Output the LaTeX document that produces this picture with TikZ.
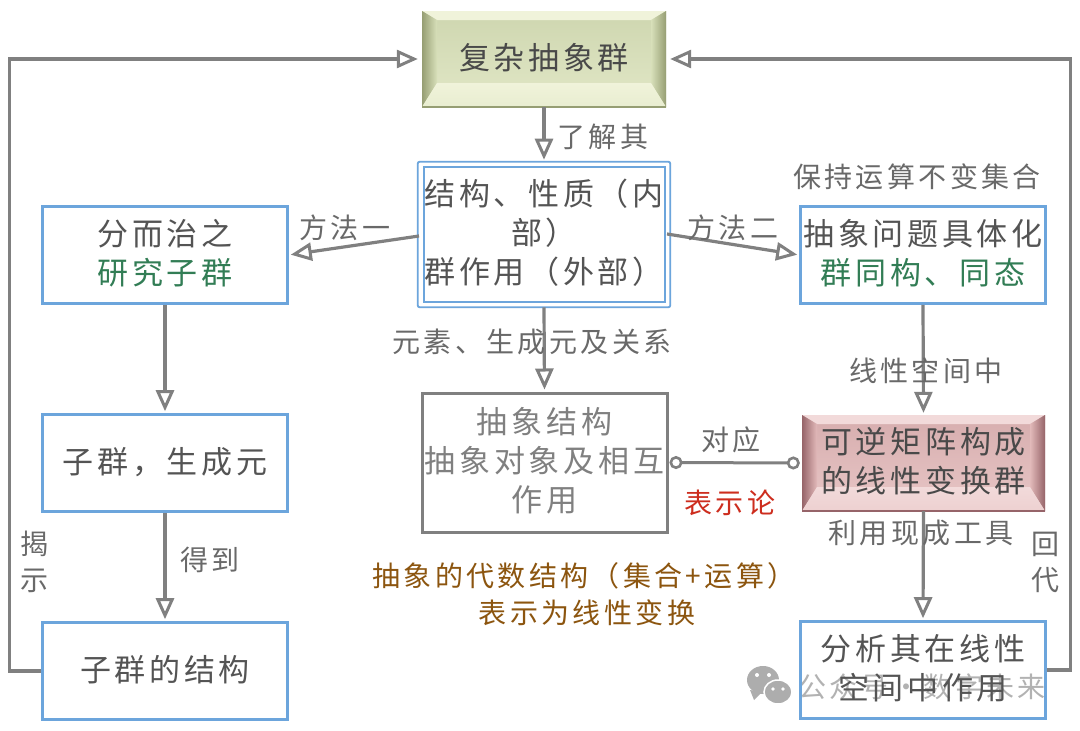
\documentclass[tikz,border=0pt]{standalone}
\usepackage{fontspec}
\setmainfont{Noto Sans CJK SC}[LetterSpace=12]
\usetikzlibrary{arrows.meta,calc}
\definecolor{linegray}{RGB}{128,128,128}
\definecolor{txtgray}{RGB}{105,105,105}
\definecolor{boxblue}{RGB}{108,165,220}
\definecolor{grn}{RGB}{50,125,85}
\definecolor{brn}{RGB}{140,85,15}
\definecolor{redtxt}{RGB}{205,45,30}
\definecolor{olL}{RGB}{240,243,218}
\definecolor{olF}{RGB}{216,224,186}
\definecolor{olD}{RGB}{150,158,115}
\definecolor{rdL}{RGB}{242,218,218}
\definecolor{rdF}{RGB}{226,186,186}
\definecolor{rdD}{RGB}{150,100,105}
\newcommand{\bevelbox}[7]{% x1 y1 x2 y2 light face dark
  \shade[top color=#6!85!#7,bottom color=#6!60!#5] (#1,#2) rectangle (#3,#4);
  \fill[#5] (#1,#2) -- (#3,#2) -- (#3-14,#2+9) -- (#1+14,#2+9) -- cycle;
  \shade[left color=#7,right color=#6] (#1,#2) -- (#1+15,#2+9) -- (#1+15,#4-24) -- (#1,#4) -- cycle;
  \shade[left color=#6,right color=#7] (#3,#2) -- (#3-15,#2+9) -- (#3-15,#4-24) -- (#3,#4) -- cycle;
  \shade[top color=#5,bottom color=#5!70!#6] (#1,#4) -- (#1+15,#4-24) -- (#3-15,#4-24) -- (#3,#4) -- cycle;
  \draw[#7,line width=1.2pt] (#1,#4) -- (#3,#4);
}
\tikzset{
  x=1pt,y=-1pt,
  box/.style={draw=boxblue,line width=2.6pt,minimum width=245pt,minimum height=97pt,align=center,
    text=txtgray!80!black,font=\fontsize{31}{39}\selectfont,inner sep=0pt},
  plain/.style={minimum width=244pt,minimum height=96pt,align=center,text=txtgray!70!black,
    font=\fontsize{31}{39}\selectfont,inner sep=0pt},
  lab/.style={text=txtgray,font=\fontsize{28}{30}\selectfont,align=center,inner sep=0pt},
  conn/.style={draw=linegray,line width=3.2pt,-{Triangle[open,fill=white,length=21pt,width=18pt,line width=3pt]},shorten >=2pt},
  link/.style={draw=linegray,line width=3pt,{Circle[open,fill=white,length=13pt,width=13pt,line width=2.6pt]}-{Circle[open,fill=white,length=13pt,width=13pt,line width=2.6pt]}},
}
\begin{document}
\begin{tikzpicture}
\useasboundingbox (0,0) rectangle (1080,731);
\fill[white] (0,0) rectangle (1080,731);
\bevelbox{422}{11}{666}{107}{olL}{olF}{olD}
\bevelbox{802}{415}{1045}{511}{rdL}{rdF}{rdD}
% watermark under the box text
\fill[black!32] (763,680) ellipse (16 and 14);
\fill[white] (757,675) circle (2) (769,675) circle (2);
\fill[black!32] (750,690) -- (754,700) -- (762,692) -- cycle;
\fill[black!32,draw=white,line width=1.5pt] (778,692) ellipse (14 and 12);
\fill[white] (773,689) circle (1.8) (783,689) circle (1.8);
\node[lab,text=black!30] (wm) at (922,687) {公众号·数字未来};
\node[plain] (top) at (544,59) {复杂抽象群\\[-33pt]};
\node[box,draw=none,minimum width=250pt,minimum height=143pt] (mid) at (544,234.5) {结构、性质（内\\部）\\群作用（外部）\\[-33pt]};
\draw[boxblue,line width=1.8pt,rounded corners=2pt] (mid.north west) rectangle (mid.south east);
\draw[boxblue,line width=1.8pt] ($(mid.north west)+(6,5)$) rectangle ($(mid.south east)+(-5,-5)$);
\node[box] (la) at (165,255) {分而治之\\{\color{grn}研究子群}\\[-33pt]};
\node[box] (lb) at (165,463) {子群，生成元\\[-33pt]};
\node[box] (lc) at (165,671) {子群的结构\\[-33pt]};
\node[box] (ra) at (923,255) {抽象问题具体化\\{\color{grn}群同构、同态}\\[-33pt]};
\node[plain,minimum width=243pt] (rb) at (923.5,463) {可逆矩阵构成\\的线性变换群\\[-33pt]};
\node[box] (rc) at (923,670) {分析其在线性\\空间中作用\\[-33pt]};
\node[box,draw=linegray,line width=3pt,minimum height=139pt,text=txtgray!85!white] (ab) at (544.5,462.5) {抽象结构\\抽象对象及相互\\作用\\[-33pt]};
\draw[conn] (top.south) -- (mid.north);
\draw[conn] (mid.south) -- (ab.north);
\coordinate (midw) at (419,236);
\coordinate (mide) at (667,234);
\draw[conn] (midw) -- (la.east);
\draw[conn] (mide) -- (ra.west);
\draw[conn] (la.south) -- (lb.north);
\draw[conn] (lb.south) -- (lc.north);
\draw[conn] (ra.south) -- (rb.north);
\draw[conn] (rb.south) -- (rc.north);
\draw[link] (ab.east) ++(1,0) -- ([xshift=-2pt]rb.west);
\draw[conn,shorten >=4pt] (lc.west) -- ++(-32,0) |- (top.west);
\draw[conn,shorten >=4pt] (rc.east) -- ++(24,0) |- (top.east);
\node[lab] (t1) at (603,137) {了解其};
\node[lab] (t2) at (345,228) {方法一};
\node[lab] (t3) at (733,228) {方法二};
\node[lab] (t4) at (917,177) {保持运算不变集合};
\node[lab] (t5) at (532,342) {元素、生成元及关系};
\node[lab] (t6) at (926,371) {线性空间中};
\node[lab] (t7) at (731,440) {对应};
\node[lab,text=redtxt] (t8) at (730,503) {表示论};
\node[lab] (t9) at (921,533) {利用现成工具};
\node[lab,font=\fontsize{28}{36}\selectfont] (t10) at (1045,562) {回\\代};
\node[lab,font=\fontsize{28}{36}\selectfont] (t11) at (34,562) {揭\\示};
\node[lab] (t12) at (210,560) {得到};
\node[lab,text=brn] (t13) at (584,576) {抽象的代数结构（集合+运算）};
\node[lab,text=brn] (t14) at (587,613) {表示为线性变换};
\end{tikzpicture}
\end{document}
